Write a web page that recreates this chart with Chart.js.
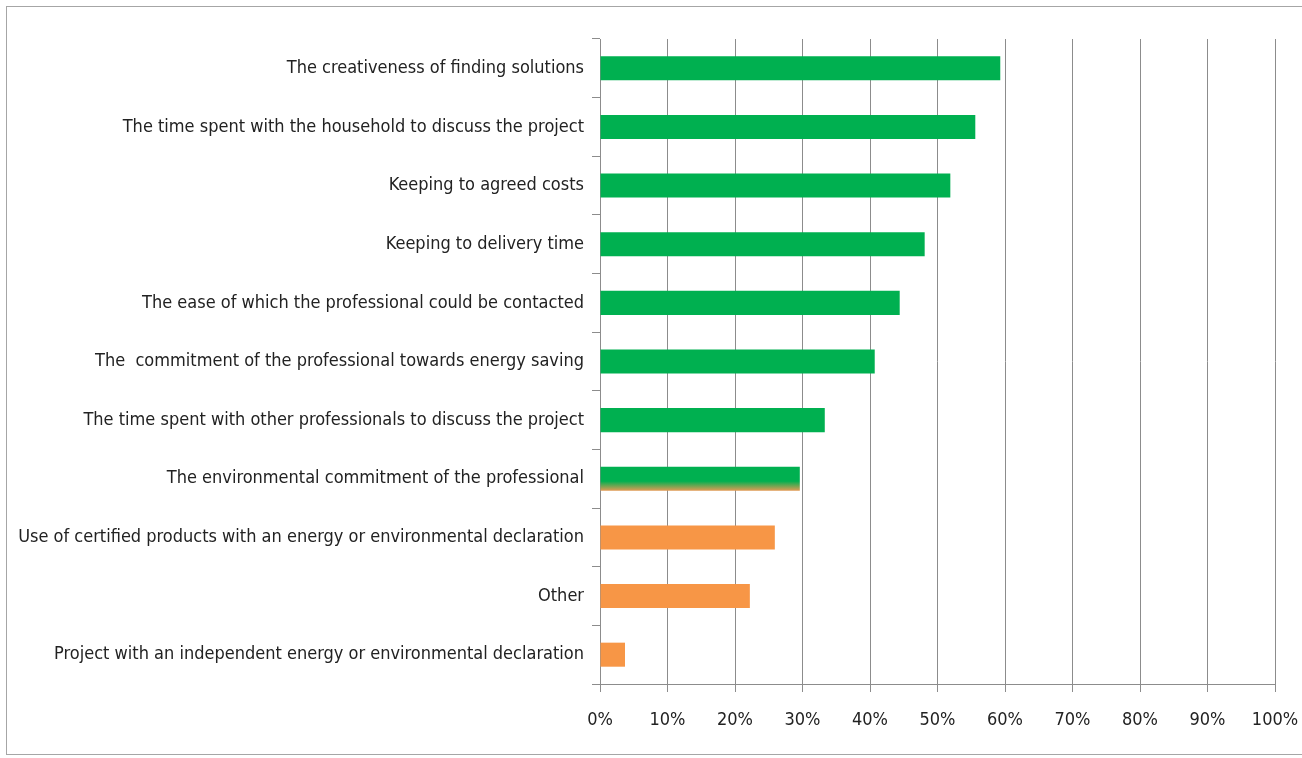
<!DOCTYPE html>
<html>
<head>
<meta charset="utf-8">
<script src="https://cdn.jsdelivr.net/npm/chart.js@4"></script>
<style>
  html, body { margin: 0; padding: 0; background: #fff; }
  #wrap { position: absolute; left: 0; top: 0; width: 1302px; height: 758px; }
  #frame { position: absolute; left: 6px; top: 6px; width: 1300px; height: 749px; border: 1px solid #a6a6a6; box-sizing: border-box; }
</style>
</head>
<body>
<div id="wrap">
  <div id="frame"></div>
  <canvas id="myChart" width="1302" height="758"></canvas>
</div>
<script>
const labels = [
    "The creativeness of finding solutions",
    "The time spent with the household to discuss the project",
    "Keeping to agreed costs",
    "Keeping to delivery time",
    "The ease of which the professional could be contacted",
    "The  commitment of the professional towards energy saving",
    "The time spent with other professionals to discuss the project",
    "The environmental commitment of the professional",
    "Use of certified products with an energy or environmental declaration",
    "Other",
    "Project with an independent energy or environmental declaration"
];
const shares = [59.3, 55.6, 51.9, 48.1, 44.4, 40.7, 33.3, 29.6, 25.9, 22.2, 3.7];
const groups = ["g", "g", "g", "g", "g", "g", "g", "mix", "o", "o", "o"];
const tickValues = [0, 10, 20, 30, 40, 50, 60, 70, 80, 90, 100];

const GREEN = "#00b050";
const ORANGE = "#f79646";
const FONT = "'Liberation Sans Narrow', 'DejaVu Sans Condensed', 'Open Sans', sans-serif";

const barColor = (ctx) => {
    const g = groups[ctx.dataIndex];
    if (g === "g") return GREEN;
    if (g === "o") return ORANGE;
    const chart = ctx.chart;
    const y = chart.scales.y;
    if (!y) return GREEN;
    const band = (y.bottom - y.top) / labels.length;
    const mid = y.getPixelForValue(ctx.dataIndex);
    const half = band * 0.41 / 2;
    const grad = chart.ctx.createLinearGradient(0, mid - half, 0, mid + half);
    grad.addColorStop(0, GREEN);
    grad.addColorStop(0.6, GREEN);
    grad.addColorStop(1, "#e39a55");
    return grad;
};

plotChart = () => {
    const ctx = document.getElementById("myChart").getContext("2d");
    new Chart(ctx, {
        type: "bar",
        data: {
            labels: labels,
            datasets: [{
                data: shares,
                backgroundColor: barColor,
                categoryPercentage: 0.41,
                barPercentage: 1.0
            }]
        },
        options: {
            indexAxis: "y",
            responsive: false,
            animation: false,
            layout: { padding: { left: 10, right: 27, top: 39, bottom: 0 } },
            plugins: { legend: { display: false }, tooltip: { enabled: false } },
            scales: {
                x: {
                    min: 0,
                    max: 100,
                    afterBuildTicks: (s) => { s.ticks = tickValues.map((v) => ({ value: v })); },
                    afterFit: (s) => {
                        s.height = 758 - 684;
                        s.paddingLeft = 0;
                        s.paddingRight = 0;
                    },
                    ticks: {
                        callback: (v) => v + "%",
                        color: "#222",
                        font: { family: FONT, size: 18 },
                        padding: 18,
                        maxRotation: 0
                    },
                    grid: { color: "#8c8c8c", lineWidth: 1, tickLength: 8 },
                    border: { color: "#8c8c8c" }
                },
                y: {
                    afterFit: (s) => { s.width = 600 - 10; },
                    ticks: {
                        color: "#222",
                        font: { family: FONT, size: 18 },
                        padding: 8
                    },
                    grid: { offset: true, drawOnChartArea: false, color: "#8c8c8c", tickLength: 8 },
                    border: { color: "#8c8c8c" }
                }
            }
        }
    });
};

plotChart();
</script>
</body>
</html>
